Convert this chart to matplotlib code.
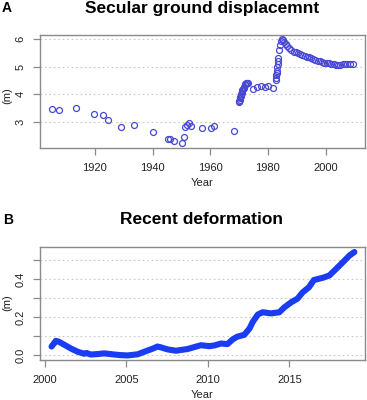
import numpy as np
import matplotlib
matplotlib.use("Agg")
import matplotlib.pyplot as plt

plt.rcParams['font.family'] = ['Liberation Sans', 'DejaVu Sans']

# Panel A: secular ground displacement (m)
yr_a = [1905.2, 1907.4, 1913.6, 1919.7, 1922.8, 1924.7, 1929.0, 1933.5, 1940.3,
        1945.3, 1946.1, 1947.3, 1950.1, 1950.8, 1951.4, 1952.0, 1952.6, 1953.4,
        1957.3, 1960.2, 1961.3, 1968.2,
        1970.0, 1970.1, 1970.2, 1970.3, 1970.45, 1970.6, 1970.75, 1970.9, 1971.05,
        1971.2, 1971.4, 1971.6, 1971.8, 1972.0, 1972.2, 1972.4, 1972.7, 1973.0,
        1975.0, 1976.1, 1977.5, 1978.9, 1980.1, 1981.9,
        1982.8, 1982.9, 1983.0, 1983.1, 1983.2, 1983.3, 1983.4, 1983.5, 1983.6,
        1983.9, 1984.1, 1984.5, 1984.9, 1985.3, 1985.7, 1986.2, 1986.8, 1987.5,
        1988.2, 1989.0, 1989.8, 1990.5, 1991.2, 1992.0, 1992.8, 1993.6, 1994.3,
        1995.0, 1995.7, 1996.5, 1997.3, 1998.0, 1998.8, 1999.6, 2000.4, 2001.2,
        2002.0, 2002.8, 2003.6, 2004.4, 2005.2, 2006.0, 2006.8, 2007.6, 2008.5,
        2009.4]
disp_a = [3.47, 3.44, 3.49, 3.29, 3.23, 3.07, 2.79, 2.88, 2.62,
          2.36, 2.36, 2.30, 2.22, 2.43, 2.79, 2.89, 2.96, 2.84,
          2.75, 2.77, 2.84, 2.66,
          3.70, 3.75, 3.80, 3.85, 3.90, 3.95, 4.00, 4.05, 4.10,
          4.14, 4.18, 4.22, 4.27, 4.32, 4.37, 4.40, 4.42, 4.41,
          4.19, 4.26, 4.29, 4.26, 4.29, 4.21,
          4.52, 4.60, 4.68, 4.78, 4.86, 5.00, 5.10, 5.20, 5.30,
          5.62, 5.78, 5.92, 6.00, 5.96, 5.90, 5.82, 5.75, 5.68,
          5.62, 5.55, 5.52, 5.49, 5.46, 5.42, 5.38, 5.36, 5.36,
          5.32, 5.28, 5.25, 5.22, 5.19, 5.16, 5.14, 5.13, 5.12,
          5.10, 5.09, 5.08, 5.07, 5.07, 5.09, 5.10, 5.10, 5.10,
          5.11]

# Panel B: recent deformation (m)
yr_b = [2000.40, 2000.55, 2000.66, 2000.86, 2001.17, 2001.58, 2001.99, 2002.4,
        2002.55, 2002.8, 2003.2, 2003.63, 2004.24, 2004.6, 2005.06, 2005.68,
        2006.3, 2006.7, 2006.9, 2007.1, 2007.52, 2008.03, 2008.75, 2009.57,
        2010.08, 2010.4, 2010.8, 2011.2, 2011.52, 2011.8, 2012.23, 2012.55,
        2012.75, 2013.06, 2013.36, 2013.87, 2014.38, 2014.69, 2015.1, 2015.5,
        2015.8, 2016.2, 2016.5, 2017.05, 2017.45, 2017.87, 2018.28, 2018.68,
        2018.99]
disp_b = [0.045, 0.062, 0.075, 0.070, 0.055, 0.035, 0.018, 0.007,
          0.011, 0.003, 0.005, 0.009, 0.003, 0.000, -0.002, 0.004,
          0.024, 0.037, 0.045, 0.041, 0.030, 0.023, 0.032, 0.052,
          0.047, 0.051, 0.061, 0.058, 0.083, 0.097, 0.107, 0.140,
          0.175, 0.214, 0.226, 0.220, 0.226, 0.252, 0.278, 0.298,
          0.330, 0.358, 0.396, 0.408, 0.420, 0.455, 0.490, 0.525,
          0.544]

W, H = 367, 400
fig = plt.figure(figsize=(W / 100, H / 100), dpi=100)

spine_col = '#8a8a8a'
grid_col = '#c8c8c8'


def style_axes(ax):
    for s in ax.spines.values():
        s.set_color(spine_col)
        s.set_linewidth(1.0)
    ax.tick_params(axis='both', colors=spine_col, labelcolor='#222222',
                   labelsize=8, length=5, width=0.9, direction='out')
    ax.tick_params(axis='y', pad=5)
    ax.tick_params(axis='x', pad=6)
    for lab in ax.get_yticklabels():
        lab.set_rotation(90)
        lab.set_va('center')


# ---- Panel A ----
axA = fig.add_axes([39.5 / W, 1 - 147.7 / H, (365 - 39.5) / W, (147.7 - 35) / H])
axA.plot(yr_a, disp_a, 'o', ms=4.3, mfc='none', mec='#4848d4', mew=0.9)
axA.set_xlim(1900.8, 2013.7)
axA.set_ylim(2.05, 6.155)
axA.set_xticks([1920, 1940, 1960, 1980, 2000])
axA.set_yticks([3, 4, 5, 6])
for v in [3, 4, 5, 6]:
    axA.axhline(v, color=grid_col, lw=0.8, ls=(0, (1.5, 2.5)), zorder=0)
style_axes(axA)

fig.text(202 / W, 1 - 9 / H, 'Secular ground displacemnt', ha='center', va='center',
         fontsize=12.5, fontweight='bold')
fig.text(2 / W, 1 - 8 / H, 'A', ha='left', va='center', fontsize=10, fontweight='bold')
fig.text(202 / W, 1 - 183 / H, 'Year', ha='center', va='center', fontsize=8, color='#222222')
fig.text(7 / W, 1 - 96 / H, '(m)', ha='center', va='center', rotation=90, fontsize=8,
         color='#222222')

# ---- Panel B ----
axB = fig.add_axes([39.5 / W, 1 - 360 / H, (365 - 39.5) / W, (360 - 246.7) / H])
axB.plot(yr_b, disp_b, '-', color='#1a3cf2', lw=4.4, solid_capstyle='round',
         solid_joinstyle='round')
axB.set_xlim(1999.66, 2019.64)
axB.set_ylim(-0.026, 0.572)
axB.set_xticks([2000, 2005, 2010, 2015])
yt = [0.0, 0.1, 0.2, 0.3, 0.4, 0.5]
axB.set_yticks(yt)
axB.set_yticklabels(['0.0', '', '0.2', '', '0.4', ''])
for v in yt:
    axB.axhline(v, color=grid_col, lw=0.8, ls=(0, (1.5, 2.5)), zorder=0)
style_axes(axB)

fig.text(202 / W, 1 - 219 / H, 'Recent deformation', ha='center', va='center',
         fontsize=12.5, fontweight='bold')
fig.text(3 / W, 1 - 220 / H, 'B', ha='left', va='center', fontsize=10, fontweight='bold')
fig.text(202 / W, 1 - 395 / H, 'Year', ha='center', va='center', fontsize=8, color='#222222')
fig.text(7 / W, 1 - 303 / H, '(m)', ha='center', va='center', rotation=90, fontsize=8,
         color='#222222')

fig.savefig('out.png', dpi=100)
